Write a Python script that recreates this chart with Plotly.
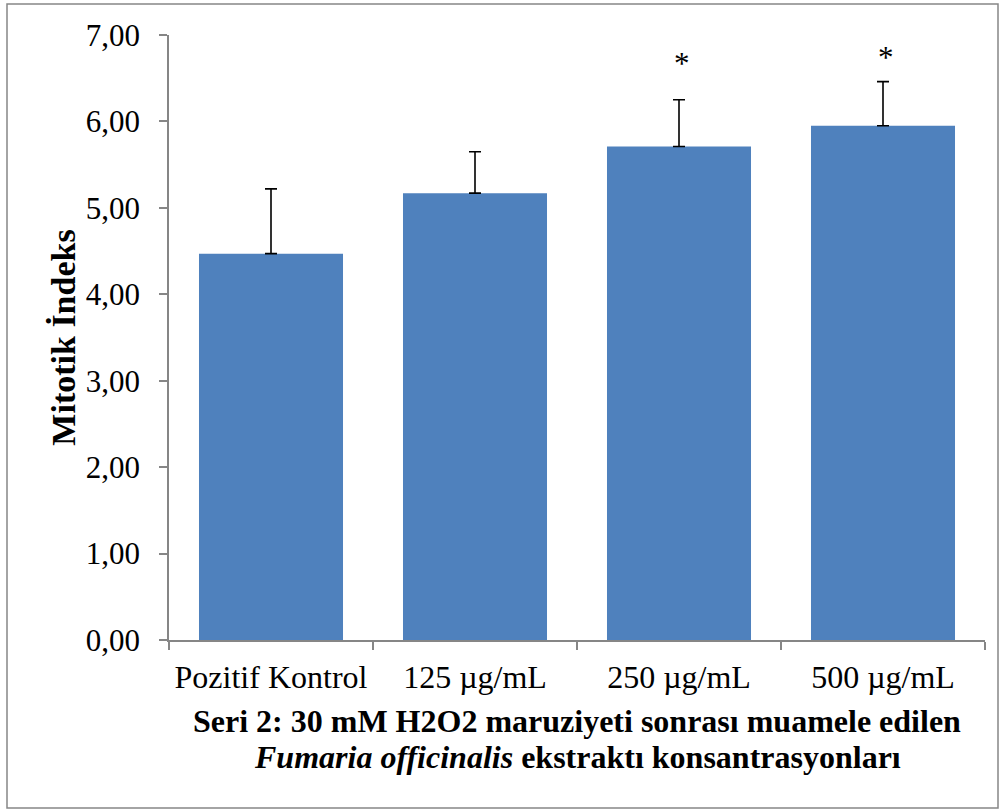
import plotly.graph_objects as go

categories = ["Pozitif Kontrol", "125 µg/mL", "250 µg/mL", "500 µg/mL"]
mitotic_index = [4.47, 5.17, 5.71, 5.95]
std_error = [0.75, 0.48, 0.54, 0.51]
significance = ["", "", "*", "*"]
y_ticks = [0, 1, 2, 3, 4, 5, 6, 7]
y_tick_labels = ["0,00", "1,00", "2,00", "3,00", "4,00", "5,00", "6,00", "7,00"]
x_title_line1 = "Seri 2: 30 mM H2O2 maruziyeti sonrası muamele edilen"
x_title_line2 = "<i>Fumaria officinalis</i> ekstraktı konsantrasyonları"
y_title = "Mitotik İndeks"

FONT = "Liberation Serif, Times New Roman, serif"
AXIS_COLOR = "#868686"

fig = go.Figure()
fig.add_trace(go.Bar(
    x=categories,
    y=mitotic_index,
    marker=dict(color="#4F81BD", line=dict(width=0)),
    error_y=dict(type="data", symmetric=False, array=std_error,
                 arrayminus=[0] * len(std_error),
                 color="black", thickness=1.6, width=6),
    width=0.706,
    showlegend=False,
))

star_shift = [0, 0, 17, 5]
for cat, m, e, s, sh in zip(categories, mitotic_index, std_error, significance, star_shift):
    if s:
        fig.add_annotation(x=cat, y=m + e, text=s, showarrow=False,
                           yanchor="bottom", yshift=sh, xshift=3,
                           font=dict(family=FONT, size=31, color="black"))

L, R, T, B = 169, 20, 35, 171
W, H = 1005, 811
pw, ph = W - L - R, H - T - B

# two-line x-axis title
for i, line in enumerate([x_title_line1, x_title_line2]):
    fig.add_annotation(
        xref="paper", yref="paper", x=0.5, y=-(721 + 36 * i - (H - B)) / ph,
        xanchor="center", yanchor="middle",
        text="<b>" + line + "</b>", showarrow=False,
        font=dict(family=FONT, size=32, color="black"),
    )

# outer chart border
fig.add_shape(type="rect", xref="paper", yref="paper",
              x0=(7 - L) / pw, x1=(998 - L) / pw,
              y0=(H - B - 808) / ph, y1=(H - B - 4) / ph,
              line=dict(color="#868686", width=1.5), fillcolor="rgba(0,0,0,0)",
              layer="below")

fig.update_layout(
    width=W, height=H,
    margin=dict(l=L, r=R, t=T, b=B),
    paper_bgcolor="white", plot_bgcolor="white",
    font=dict(family=FONT, color="black"),
    bargap=0.294,
    xaxis=dict(
        type="category", showline=True, linecolor=AXIS_COLOR, linewidth=1.5,
        ticks="outside", tickson="boundaries", ticklen=8, tickcolor=AXIS_COLOR,
        tickwidth=1.5, tickfont=dict(family=FONT, size=32, color="black"),
        ticklabelstandoff=8,
        showgrid=False, zeroline=False,
    ),
    yaxis=dict(
        range=[0, 7], tickvals=y_ticks, ticktext=y_tick_labels,
        showline=True, linecolor=AXIS_COLOR, linewidth=1.5,
        ticks="outside", ticklen=8, tickcolor=AXIS_COLOR, tickwidth=1.5,
        tickfont=dict(family=FONT, size=31, color="black"),
        ticklabelstandoff=13,
        showgrid=False, zeroline=False,
        title=dict(text="<b>" + y_title + "</b>", standoff=0,
                   font=dict(family=FONT, size=34, color="black")),
    ),
)

fig.write_html("out.html", config={"displayModeBar": False},
               post_script="document.body.style.margin='0';")
